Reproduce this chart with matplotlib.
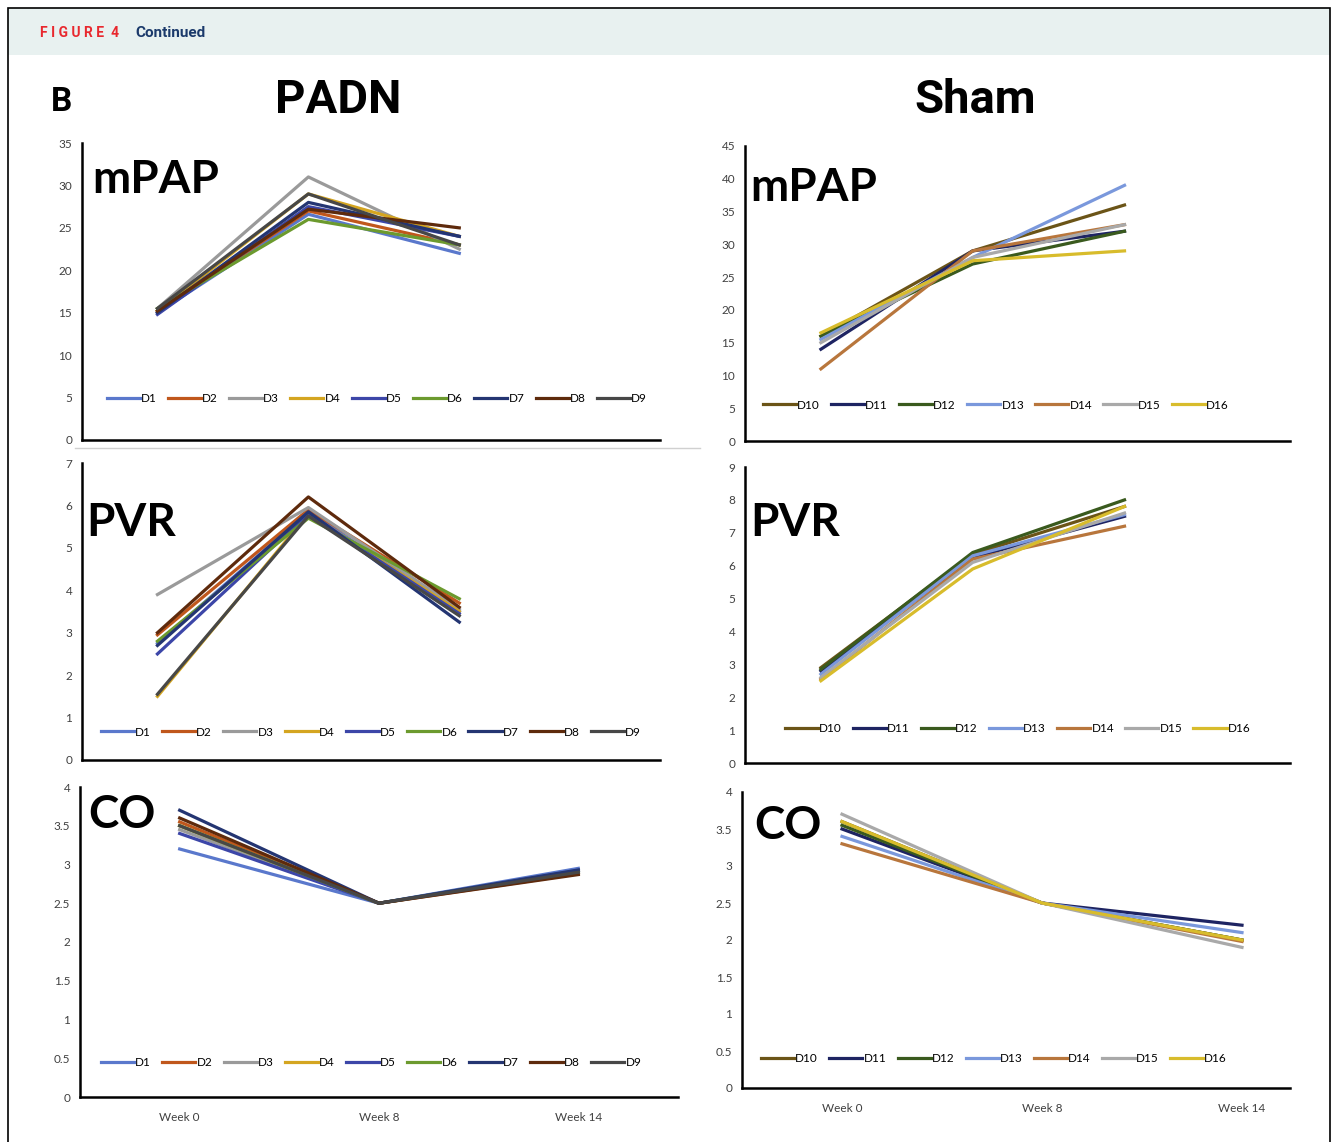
import matplotlib
matplotlib.use('Agg')
import matplotlib.pyplot as plt
import numpy as np
from matplotlib.patches import Rectangle
from matplotlib.lines import Line2D
from matplotlib.ticker import FormatStrFormatter

plt.rcParams['font.family'] = ['Lato', 'DejaVu Sans']

# Data
weeks = ['Week 0', 'Week 8', 'Week 14']

padn_ids = ['D1', 'D2', 'D3', 'D4', 'D5', 'D6', 'D7', 'D8', 'D9']
padn_colors = ['#5a78cc', '#c0571c', '#9a9a9a', '#d4a520', '#3c46a8',
               '#6c9a2e', '#243572', '#5e2a0c', '#474747']
padn_mpap = [[15.0, 26.6, 22.0], [15.2, 27.0, 23.0], [15.5, 31.0, 22.5],
             [15.2, 29.0, 24.0], [14.8, 27.5, 24.0], [15.5, 26.0, 23.0],
             [15.0, 28.0, 24.0], [15.2, 27.2, 25.0], [15.5, 29.0, 23.0]]
padn_pvr = [[2.75, 5.85, 3.5], [2.95, 5.9, 3.7], [3.9, 5.95, 3.55],
            [1.5, 5.8, 3.5], [2.5, 5.8, 3.45], [2.8, 5.7, 3.8],
            [2.7, 5.85, 3.25], [3.0, 6.2, 3.6], [1.55, 5.75, 3.4]]
padn_co = [[3.2, 2.5, 2.95], [3.55, 2.5, 2.88], [3.45, 2.5, 2.9],
           [3.5, 2.5, 2.9], [3.4, 2.5, 2.92], [3.5, 2.5, 2.92],
           [3.7, 2.5, 2.93], [3.6, 2.5, 2.87], [3.5, 2.5, 2.9]]

sham_ids = ['D10', 'D11', 'D12', 'D13', 'D14', 'D15', 'D16']
sham_colors = ['#6b5417', '#1e2462', '#3a5a1e', '#7a98dc', '#b8763c',
               '#a9a9a9', '#d8bc2c']
sham_mpap = [[16.0, 29.0, 36.0], [14.0, 29.0, 32.0], [16.0, 27.0, 32.0],
             [15.5, 28.0, 39.0], [11.0, 29.0, 33.0], [15.0, 28.0, 33.0],
             [16.5, 27.5, 29.0]]
sham_pvr = [[2.9, 6.35, 7.8], [2.8, 6.25, 7.5], [2.85, 6.4, 8.0],
            [2.7, 6.3, 7.55], [2.55, 6.2, 7.2], [2.6, 6.1, 7.6],
            [2.5, 5.9, 7.8]]
sham_co = [[3.6, 2.5, 2.0], [3.5, 2.5, 2.2], [3.55, 2.5, 2.0],
           [3.4, 2.5, 2.1], [3.3, 2.5, 1.98], [3.7, 2.5, 1.9],
           [3.6, 2.5, 2.0]]

W, H = 1335, 1142
fig = plt.figure(figsize=(W / 100, H / 100), dpi=100)


def px_axes(left, top, right, bottom):
    return fig.add_axes([left / W, 1 - bottom / H, (right - left) / W, (bottom - top) / H])


def px_text(x, y, s, **kw):
    fig.text(x / W, 1 - y / H, s, **kw)


def panel(box, ids, values, colors, ymax, ystep, xmax, leg_xy, show_weeks):
    ax = px_axes(*box)
    for name, vals, c in zip(ids, values, colors):
        ax.plot(range(len(weeks)), vals, color=c, lw=2.3, label=name)
    ax.set_xlim(-0.5, xmax)
    ax.set_ylim(0, ymax)
    ax.set_yticks(np.arange(0, ymax + ystep / 2, ystep))
    ax.yaxis.set_major_formatter(FormatStrFormatter('%g'))
    ax.set_xticks(range(len(weeks)))
    ax.set_xticklabels(weeks if show_weeks else [])
    ax.tick_params(length=0, labelsize=8.5, labelcolor='#404040')
    ax.tick_params(axis='y', pad=7)
    ax.tick_params(axis='x', pad=11)
    for s in ['top', 'right']:
        ax.spines[s].set_visible(False)
    for s in ['left', 'bottom']:
        ax.spines[s].set_linewidth(1.8)
    ax.legend(loc='center', bbox_to_anchor=leg_xy, ncol=len(ids), frameon=False,
              fontsize=8.5, handlelength=2.8, handletextpad=0.1, columnspacing=0.95,
              borderaxespad=0)
    return ax


# Left column: PADN
panel((82, 143, 660, 440), padn_ids, padn_mpap, padn_colors, 35, 5, 3.33, (0.51, 0.14), False)
panel((82, 463, 660, 760), padn_ids, padn_pvr, padn_colors, 7, 1, 3.33, (0.50, 0.094), False)
panel((80, 787, 678, 1097), padn_ids, padn_co, padn_colors, 4, 0.5, 2.5, (0.487, 0.11), True)

# Right column: Sham
panel((745, 146, 1290, 441), sham_ids, sham_mpap, sham_colors, 45, 5, 3.09, (0.46, 0.122), False)
panel((745, 467, 1290, 763), sham_ids, sham_pvr, sham_colors, 9, 1, 3.09, (0.50, 0.115), False)
panel((742, 792, 1290, 1088), sham_ids, sham_co, sham_colors, 4, 0.5, 2.24, (0.46, 0.10), True)

# separator line under the PADN mPAP chart
fig.add_artist(Line2D([75 / W, 700 / W], [1 - 448 / H, 1 - 448 / H], color='#d0d0d0', lw=1))

# Panel labels
big = dict(fontsize=33, fontweight='bold', va='center', ha='left')
px_text(92, 180, 'mPAP', **big)
px_text(86, 523, 'PVR', **big)
px_text(88, 815, 'CO', **big)
px_text(750, 188, 'mPAP', **big)
px_text(750, 523, 'PVR', **big)
px_text(754, 826, 'CO', **big)

# Column titles
px_text(338, 100, 'PADN', fontsize=34, fontweight='bold', ha='center', va='center', family='Roboto')
px_text(975, 100, 'Sham', fontsize=34, fontweight='bold', ha='center', va='center', family='Roboto')
px_text(51, 102, 'B', fontsize=24, fontweight='bold', ha='left', va='center', family='Roboto')

# Header band and border
fig.add_artist(Rectangle((8 / W, 1 - 55 / H), 1322 / W, 47 / H, facecolor='#e8f1f0',
                         edgecolor='none', zorder=-1))
fig.add_artist(Rectangle((8 / W, -0.01), 1322 / W, 1 - 8 / H + 0.01, facecolor='none',
                         edgecolor='black', lw=1.2))
px_text(40, 33, 'F I G U R E  4', fontsize=10, fontweight='bold', color='#e8282e',
        ha='left', va='center', family='Roboto')
px_text(135, 33, 'Continued', fontsize=11, fontweight='bold', color='#1b3a6b',
        ha='left', va='center', family='Roboto')

plt.savefig('out.png', dpi=100)
